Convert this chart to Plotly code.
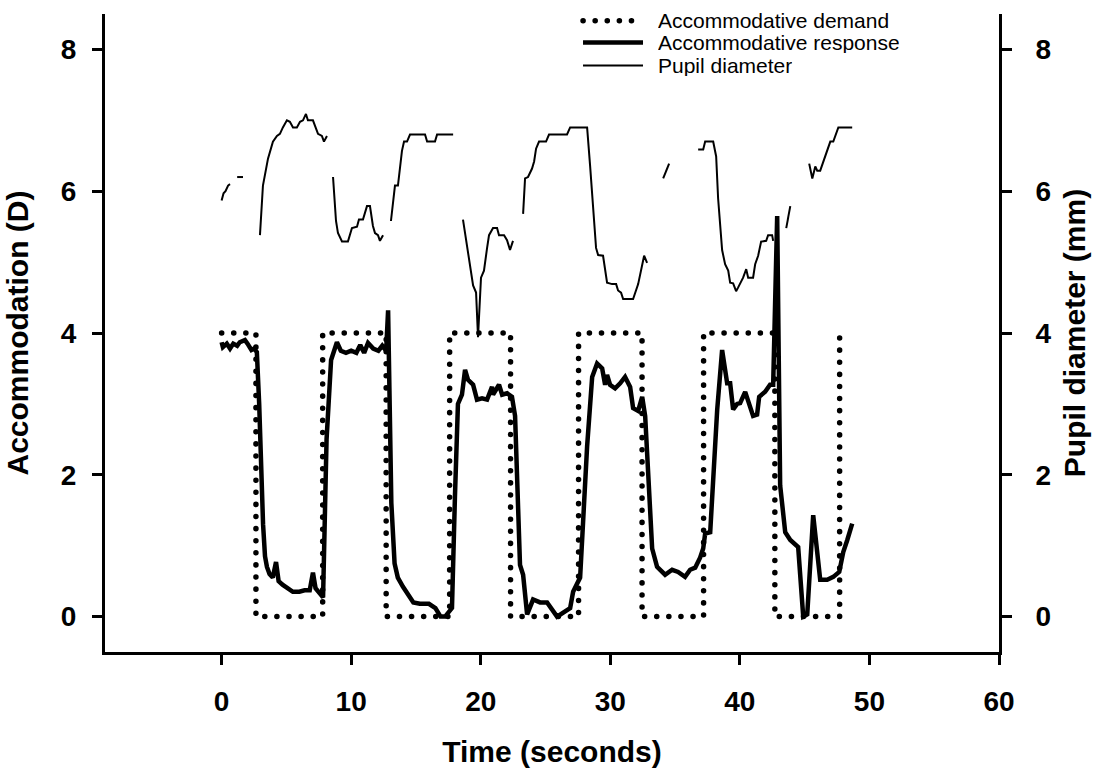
import plotly.graph_objects as go

# ---------------- data ----------------
demand_t = [0, 2.65, 2.65, 7.8, 7.8, 12.7, 12.7, 17.6, 17.6, 22.3, 22.3,
            27.55, 27.55, 32.45, 32.45, 37.2, 37.2, 42.7, 42.7, 47.7, 47.7]
demand_v = [4, 4, 0, 0, 4, 4, 0, 0, 4, 4, 0, 0, 4, 4, 0, 0, 4, 4, 0, 0, 4]

resp_t = [0, 0.1, 0.4, 0.65, 0.9, 1.2, 1.4, 1.8, 2.0, 2.3,
          2.5, 2.72, 2.9, 3.05, 3.2, 3.35, 3.5, 3.7, 3.95, 4.2,
          4.4, 4.7, 5.1, 5.5, 6.0, 6.4, 6.8, 7.05, 7.25, 7.5,
          7.83, 8.1, 8.45, 8.9, 9.2, 9.6, 10.0, 10.4, 10.7, 11.0,
          11.3, 11.7, 12.1, 12.4, 12.7, 12.85, 13.1, 13.35, 13.6, 14.0,
          14.4, 14.8, 15.3, 16.0, 16.5, 16.9, 17.25, 17.78, 18.01, 18.24,
          18.55, 18.79, 19.02, 19.41, 19.71, 20.1, 20.49, 20.87, 20.95, 21.41,
          21.65, 22.03, 22.41, 22.65, 23.03, 23.27, 23.58, 24.04, 24.58, 25.12,
          25.89, 26.9, 27.13, 27.67, 28.21, 28.6, 28.98, 29.37, 29.6, 29.75,
          29.98, 30.37, 30.76, 31.14, 31.53, 31.76, 32.15, 32.46, 32.69, 32.92,
          33.23, 33.61, 34.23, 34.77, 35.23, 35.77, 36.16, 36.55, 36.93, 37.17,
          37.32, 37.71, 37.94, 38.25, 38.63, 39.02, 39.25, 39.48, 39.79, 40.02,
          40.41, 40.79, 41.02, 41.33, 41.49, 41.95, 42.33, 42.57, 42.88, 43.11,
          43.5, 43.89, 44.5, 44.89, 45.2, 45.66, 46.2, 46.74, 47.21, 47.67,
          47.98, 48.29, 48.67]
resp_v = [3.87, 3.8, 3.85, 3.78, 3.85, 3.82, 3.87, 3.9, 3.85, 3.76,
          3.78, 3.73, 3.0, 2.0, 1.3, 0.85, 0.7, 0.6, 0.55, 0.77,
          0.5, 0.45, 0.4, 0.35, 0.35, 0.37, 0.37, 0.62, 0.4, 0.35,
          0.27, 2.5, 3.62, 3.87, 3.75, 3.72, 3.75, 3.72, 3.83, 3.72,
          3.86, 3.78, 3.75, 3.82, 3.75, 4.32, 1.6, 0.75, 0.55, 0.42,
          0.3, 0.2, 0.18, 0.18, 0.12, 0.0, 0.0, 0.12, 1.7, 3.0,
          3.13, 3.48, 3.34, 3.27, 3.06, 3.08, 3.06, 3.24, 3.13, 3.27,
          3.13, 3.15, 3.1, 2.83, 0.73, 0.59, 0.03, 0.24, 0.2, 0.2,
          0.0, 0.12, 0.35, 0.55, 2.4, 3.38, 3.57, 3.5, 3.27, 3.41,
          3.27, 3.22, 3.29, 3.38, 3.24, 2.94, 2.9, 3.1, 2.83, 1.9,
          0.96, 0.7, 0.59, 0.66, 0.63, 0.56, 0.66, 0.69, 0.83, 0.96,
          1.17, 1.19, 1.85, 2.92, 3.76, 3.29, 3.29, 2.92, 3.0, 3.01,
          3.17, 2.97, 2.83, 2.85, 3.1, 3.17, 3.27, 3.27, 5.65, 1.85,
          1.19, 1.08, 0.98, 0.0, 0.03, 1.43, 0.52, 0.52, 0.56, 0.63,
          0.91, 1.08, 1.31]

pupil_t = [0, 0.15, 0.3, 0.5, 0.65, None,
           1.2, 1.65, None,
           2.96, 3.19, 3.58, 3.96, 4.27, 4.5, 4.73, 5.04, 5.27, 5.51, 5.81,
           6.05, 6.28, 6.51, 6.66, 7.05, 7.44, 7.74, 7.9, 8.13, None,
           8.6, 8.83, 8.98, 9.29, 9.75, 10.06, 10.45, 10.6, 10.91, 11.22,
           11.45, 11.68, 11.84, 12.07, 12.22, 12.46, None,
           13.07, 13.38, 13.61, 13.92, 14.08, 14.31, 14.54, 15.7, 15.86, 16.47,
           16.63, 17.87, None,
           18.63, 19.02, 19.41, 19.64, 19.79, 20.02, 20.25, 20.49, 20.64, 20.95,
           21.26, 21.41, 21.8, 22.03, 22.26, 22.49, None,
           23.27, 23.42, 23.65, 23.96, 24.12, 24.27, 24.5, 25.04, 25.27, 26.66,
           26.9, 28.21, 28.44, 28.67, 28.9, 29.06, 29.44, 29.75, 30.14, 30.45,
           30.6, 30.83, 30.99, 31.76, 32.15, 32.61, 32.84, None,
           34.08, 34.54, None,
           36.78, 37.17, 37.32, 37.94, 38.17, 38.32, 38.63, 38.86, 39.1, 39.25,
           39.48, 39.71, 39.86, 40.25, 40.49, 40.64, 41.02, 41.18, 41.41, 41.64,
           42.03, 42.18, 42.49, 42.57, None,
           43.58, 43.89, None,
           45.35, 45.59, 45.82, 45.97, 46.2, 46.59, 46.98, 47.21, 47.6, 48.67]
pupil_v = [5.87, 5.97, 6.0, 6.08, 6.1, None,
           6.2, 6.2, None,
           5.38, 6.08, 6.46, 6.7, 6.78, 6.81, 6.9, 7.0, 6.98, 6.9, 6.9,
           6.98, 7.0, 7.09, 7.0, 7.0, 6.81, 6.78, 6.7, 6.78, None,
           6.2, 5.58, 5.41, 5.29, 5.29, 5.48, 5.5, 5.6, 5.6, 5.79,
           5.79, 5.51, 5.41, 5.38, 5.3, 5.38, None,
           5.58, 6.08, 6.08, 6.57, 6.7, 6.7, 6.8, 6.8, 6.7, 6.7,
           6.8, 6.8, None,
           5.6, 5.1, 4.67, 4.57, 3.94, 4.78, 4.88, 5.2, 5.38, 5.48,
           5.48, 5.38, 5.38, 5.31, 5.17, 5.3, None,
           5.68, 6.18, 6.2, 6.32, 6.42, 6.6, 6.7, 6.7, 6.8, 6.8,
           6.9, 6.9, 6.36, 5.76, 5.2, 5.1, 5.09, 4.71, 4.69, 4.69,
           4.6, 4.57, 4.48, 4.48, 4.69, 5.09, 4.99, None,
           6.18, 6.39, None,
           6.59, 6.59, 6.7, 6.7, 6.49, 5.9, 5.17, 4.97, 4.88, 4.71,
           4.7, 4.59, 4.64, 4.78, 4.9, 4.78, 4.78, 4.97, 5.09, 5.29,
           5.3, 5.38, 5.38, 5.3, None,
           5.48, 5.79, None,
           6.39, 6.18, 6.35, 6.29, 6.29, 6.49, 6.7, 6.7, 6.9, 6.9]

x_ticks = [0, 10, 20, 30, 40, 50, 60]
y_ticks = [0, 2, 4, 6, 8]
series_names = ["Accommodative demand", "Accommodative response", "Pupil diameter"]

assert len(resp_t) == len(resp_v)
assert len(pupil_t) == len(pupil_v)
assert len(demand_t) == len(demand_v)

# ---------------- figure ----------------
FONT = "Liberation Sans, Arial, Helvetica, sans-serif"
DOTS = "0.1px,12px"

fig = go.Figure()
fig.add_trace(go.Scatter(x=demand_t, y=demand_v, mode="lines", name=series_names[0],
                         line=dict(color="black", width=5.5, dash=DOTS),
                         showlegend=False, hoverinfo="skip"))
fig.add_trace(go.Scatter(x=resp_t, y=resp_v, mode="lines", name=series_names[1],
                         line=dict(color="black", width=4.5),
                         showlegend=False))
fig.add_trace(go.Scatter(x=pupil_t, y=pupil_v, mode="lines", name=series_names[2],
                         line=dict(color="black", width=2), connectgaps=False,
                         yaxis="y2", showlegend=False))

tickfont = dict(family=FONT, size=28, color="black", weight="bold")
titlefont = dict(family=FONT, size=30, color="black", weight="bold")
common = dict(showgrid=False, zeroline=False, showline=True, linecolor="black",
              linewidth=3, ticks="outside", ticklen=10, tickwidth=3,
              tickcolor="black", tickfont=tickfont)

fig.update_layout(
    width=1105, height=776, autosize=False,
    margin=dict(l=105, r=106, t=14, b=118, pad=0),
    paper_bgcolor="white", plot_bgcolor="white",
    font=dict(family=FONT, color="black"),
    xaxis=dict(range=[-9, 60], tickvals=x_ticks, ticklabelstandoff=12,
               title=dict(text="Time (seconds)", font=titlefont, standoff=26),
               **common),
    yaxis=dict(range=[-0.5, 8.5], tickvals=y_ticks, ticklabelstandoff=10,
               title=dict(text="Accommodation (D)", font=titlefont, standoff=24),
               **common),
    yaxis2=dict(range=[-0.5, 8.5], tickvals=y_ticks, overlaying="y", side="right",
                anchor="x", ticklabelstandoff=18,
                title=dict(text="Pupil diameter (mm)", font=titlefont, standoff=14),
                **common),
)

# legend drawn manually to match the reference layout
leg_x0, leg_x1, leg_tx = 0.5347, 0.6018, 0.6174
leg_rows = [0.9896, 0.9554, 0.9193]
leg_styles = [dict(color="black", width=5.5, dash=DOTS),
              dict(color="black", width=4.5),
              dict(color="black", width=2)]
for name, yr, ls in zip(series_names, leg_rows, leg_styles):
    fig.add_shape(type="line", xref="paper", yref="paper", x0=leg_x0, x1=leg_x1,
                  y0=yr, y1=yr, line=ls)
    fig.add_annotation(x=leg_tx, y=yr, xref="paper", yref="paper", text=name,
                       showarrow=False, xanchor="left", yanchor="middle",
                       height=21, valign="middle", borderpad=0,
                       font=dict(family=FONT, size=21, color="black"))

post = """
function fixCaps(){
  document.querySelectorAll('path').forEach(function(p){
    var d = p.style.strokeDasharray;
    if (d && d !== 'none') { p.style.strokeLinecap = 'round'; }
  });
}
fixCaps(); setTimeout(fixCaps, 30);
var gd = document.getElementById('{plot_id}');
if (gd && gd.on) { gd.on('plotly_afterplot', fixCaps); }
"""

fig.write_html("out.html", post_script=post)
